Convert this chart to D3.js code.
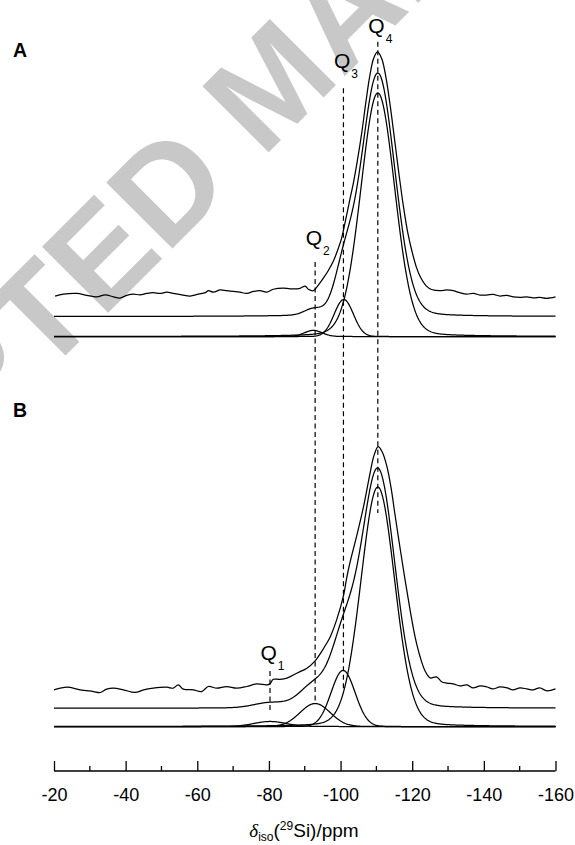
<!DOCTYPE html>
<html>
<head>
<meta charset="utf-8">
<script src="https://cdn.jsdelivr.net/npm/d3@7"></script>
<style>
  body { margin: 0; background: #fff; }
</style>
</head>
<body>
<div id="chart"></div>
<script>
// ---- data ----
var peakLabels = ["4", "3", "2", "1"];          // Q subscripts
var markerPpm = [-110.4, -100.8, -92.9, -80.3];  // dashed guide lines

// fitted components, panel A (centre ppm, height %, fwhm ppm, lorentzian fraction)
var centresA = [-110.4, -100.9, -92.4];
var heightsA = [100, 15.2, 2.5];
var widthsA = [11.2, 6.3, 5.9];
var lorentzA = [0.1, 0, 0];

// fitted components, panel B
var centresB = [-110.4, -100.7, -92.9, -80.3];
var heightsB = [100, 23.4, 9.6, 2.1];
var widthsB = [11.2, 7.9, 9.9, 10.5];
var lorentzB = [0.1, 0, 0, 0];

// experimental spectra [ppm, intensity %]
var expA = [[-20.3,0.0],[-22.6,0.8],[-26.4,1.1],[-29.2,0.3],[-31.9,-0.3],[-34.3,0.5],[-36.6,-0.3],
  [-38.4,-0.8],[-40.3,0.3],[-42.2,0.8],[-44.0,0.5],[-45.9,1.1],[-47.7,1.4],[-49.6,1.1],[-51.5,1.6],
  [-53.3,1.1],[-55.7,0.5],[-58.0,0.0],[-60.3,0.8],[-62.2,1.4],[-63.1,2.2],[-64.5,1.6],[-66.4,2.5],
  [-68.2,2.2],[-70.1,1.9],[-71.9,1.6],[-73.8,1.1],[-75.7,1.9],[-77.5,2.2],[-79.4,1.6],[-81.2,2.8],
  [-84.0,3.3],[-85.9,3.0],[-88.7,3.2],[-90.1,4.1],[-91.0,2.8],[-92.4,2.2],[-93.3,3.6],[-95.2,7.4],
  [-96.5,10.3],[-98.0,14.4],[-99.2,18.9],[-100.3,23.8],[-101.4,31.2],[-102.5,39.0],[-103.6,46.6],
  [-104.7,55.7],[-105.9,66.9],[-107.0,78.9],[-108.1,89.9],[-109.2,97.5],[-110.3,100.3],[-111.5,97.5],
  [-112.7,89.5],[-113.9,77.7],[-115.1,64.0],[-116.3,50.1],[-117.5,37.3],[-118.7,26.5],[-120.0,18.0],
  [-121.2,11.7],[-122.4,7.5],[-123.9,4.2],[-125.4,2.7],[-127.8,2.2],[-129.6,2.5],[-131.5,2.2],
  [-133.3,1.4],[-135.2,0.8],[-137.1,1.1],[-138.9,0.4],[-140.8,0.4],[-142.6,0.7],[-144.5,0.0],
  [-146.4,0.3],[-148.2,-0.3],[-150.1,-0.5],[-152.0,-0.3],[-153.8,-0.7],[-155.7,-0.5],[-157.5,-0.9],
  [-160.0,-0.3]];

var expB = [[-20.0,-0.4],[-23.6,0.7],[-27.3,-0.4],[-31.0,-1.1],[-32.9,-1.5],[-34.7,-0.1],[-36.6,0.3],
  [-39.4,-0.4],[-42.6,-1.5],[-45.0,-0.4],[-47.7,0.3],[-51.5,0.7],[-53.3,0.3],[-54.7,1.7],[-56.1,-0.1],
  [-58.9,-0.4],[-61.2,-1.1],[-63.1,1.0],[-65.4,0.3],[-68.2,1.0],[-71.0,0.3],[-73.8,1.0],[-76.6,2.1],
  [-79.4,1.7],[-80.3,2.1],[-81.2,4.0],[-83.1,4.0],[-85.0,4.5],[-86.8,5.8],[-88.7,7.2],[-90.6,8.6],
  [-92.9,11.7],[-94.3,14.6],[-95.7,18.0],[-97.1,21.7],[-98.9,28.8],[-100.8,38.8],[-101.7,46.3],
  [-102.6,52.6],[-104.5,63.9],[-106.4,76.0],[-108.2,89.8],[-109.3,97.3],[-110.5,101.2],[-111.6,99.0],
  [-112.9,93.1],[-114.1,83.9],[-115.2,72.7],[-116.6,58.9],[-118.0,45.5],[-119.4,33.0],[-120.8,21.7],
  [-122.2,13.4],[-123.6,7.5],[-125.0,4.6],[-126.8,5.0],[-128.2,3.0],[-129.6,2.4],[-131.4,2.1],
  [-133.3,1.3],[-135.3,1.7],[-137.0,0.4],[-139.0,1.3],[-140.9,0.8],[-142.5,0.0],[-144.5,0.8],
  [-146.5,0.4],[-148.1,-0.4],[-150.1,0.4],[-152.0,0.0],[-153.7,-0.4],[-155.6,0.4],[-157.6,-0.8],
  [-160.0,0.0]];

var xTicks = [-20, -40, -60, -80, -100, -120, -140, -160];
var xMinorTicks = [-30, -50, -70, -90, -110, -130, -150];

// ---- layout ----
var width = 575, height = 845;
var axisY = 771;
var fitOffA = 8.2, expOffA = 16.6;   // vertical stacking of the traces, in % units
var fitOffB = 7.6, expOffB = 15.7;

var svg = d3.select("#chart").append("svg")
    .attr("width", width)
    .attr("height", height)
    .style("font-family", "'Liberation Sans', Arial, sans-serif");

var x = d3.scaleLinear().domain([-20, -160]).range([54, 555.5]);
var yA = d3.scaleLinear().domain([0, 100]).range([336.5, 93]);
var yB = d3.scaleLinear().domain([0, 100]).range([726.5, 487]);

// watermark behind everything, "D" placed where the reference shows it
var wm = svg.append("text")
    .text("ACCEPTED MANUSCRIPT")
    .attr("font-weight", "bold")
    .attr("font-size", 136)
    .attr("fill", "#c8c8c8");
var pre = wm.node().getSubStringLength(0, 7);
wm.attr("transform", "translate(" + (166 - pre * Math.SQRT1_2) + "," + (255 + pre * Math.SQRT1_2) + ") rotate(-45)");

// pseudo-voigt line shape
function shape(p, c, h, w, eta) {
    var t = 4 * (p - c) * (p - c) / (w * w);
    return h * ((1 - eta) * Math.exp(-Math.LN2 * t) + eta / (1 + t));
}
var grid = d3.range(-20, -160.001, -0.2);

function drawPanel(y, centres, heights, widths, lorentz, exp, fitOff, expOff) {
    var g = svg.append("g")
        .attr("fill", "none")
        .attr("stroke", "#000")
        .attr("stroke-width", 1.25);
    var line = d3.line().x(function (d) { return x(d[0]); }).y(function (d) { return y(d[1]); });

    // components
    centres.forEach(function (c, i) {
        var pts = grid.map(function (p) { return [p, shape(p, c, heights[i], widths[i], lorentz[i])]; });
        g.append("path").attr("d", line(pts));
    });
    // fit = sum of components
    var fit = grid.map(function (p) {
        return [p, fitOff + d3.sum(centres, function (c, i) { return shape(p, c, heights[i], widths[i], lorentz[i]); })];
    });
    g.append("path").attr("d", line(fit));
    // experimental
    g.append("path")
        .attr("d", line.curve(d3.curveCatmullRom)(exp.map(function (d) { return [d[0], d[1] + expOff]; })));
}

drawPanel(yA, centresA, heightsA, widthsA, lorentzA, expA, fitOffA, expOffA);
drawPanel(yB, centresB, heightsB, widthsB, lorentzB, expB, fitOffB, expOffB);

// dashed guide lines and Q labels
var guideTop = [yA(121), yA(102), yA(30.6), yB(23.2)];
var guideBottom = [yB(89.1), yB(15.2), yB(9.8), yB(5.6)];
var labelY = [yA(124.6), yA(110.1), yA(37.6), yB(27.8)];

markerPpm.forEach(function (p, i) {
    svg.append("line")
        .attr("x1", x(p)).attr("x2", x(p))
        .attr("y1", guideTop[i]).attr("y2", guideBottom[i])
        .attr("stroke", "#000")
        .attr("stroke-width", 1.2)
        .attr("stroke-dasharray", "5,3.5");
    var t = svg.append("text")
        .attr("x", x(p) - 9.5)
        .attr("y", labelY[i])
        .attr("font-size", 21)
        .text("Q");
    t.append("tspan")
        .attr("dx", 1)
        .attr("dy", 10)
        .attr("font-size", 12)
        .text(peakLabels[i]);
});

// panel letters
svg.append("text").attr("x", 13).attr("y", 57).attr("font-size", 19.5).attr("font-weight", "bold").text("A");
svg.append("text").attr("x", 13).attr("y", 417).attr("font-size", 19.5).attr("font-weight", "bold").text("B");

// x axis, ticks pointing up
var axis = svg.append("g")
    .attr("transform", "translate(0," + axisY + ")")
    .call(d3.axisBottom(x).tickValues(xTicks).tickSize(-10).tickPadding(17)
        .tickFormat(function (d) { return String(d); }));
axis.select(".domain").attr("stroke-width", 1.3).attr("d", "M" + x(-20) + ",0H" + x(-160));
axis.selectAll(".tick line").attr("stroke-width", 1.3);
axis.selectAll("text").attr("font-size", 18).attr("font-family", "'Liberation Sans', Arial, sans-serif").attr("fill", "#000");

svg.append("g")
    .attr("transform", "translate(0," + axisY + ")")
    .selectAll("line").data(xMinorTicks).enter().append("line")
    .attr("x1", x).attr("x2", x)
    .attr("y1", 0).attr("y2", -5)
    .attr("stroke", "#000").attr("stroke-width", 1.3);

// axis title
var title = svg.append("text")
    .attr("x", 304)
    .attr("y", 837)
    .attr("text-anchor", "middle")
    .attr("font-size", 19);
title.append("tspan").attr("font-style", "italic").attr("font-family", "'Liberation Serif', 'Times New Roman', serif").text("δ");
title.append("tspan").attr("font-size", 12).attr("dy", 4).text("iso");
title.append("tspan").attr("dy", -4).text("(");
title.append("tspan").attr("font-size", 12).attr("dy", -7).text("29");
title.append("tspan").attr("dy", 7).text("Si)/ppm");
</script>
</body>
</html>
